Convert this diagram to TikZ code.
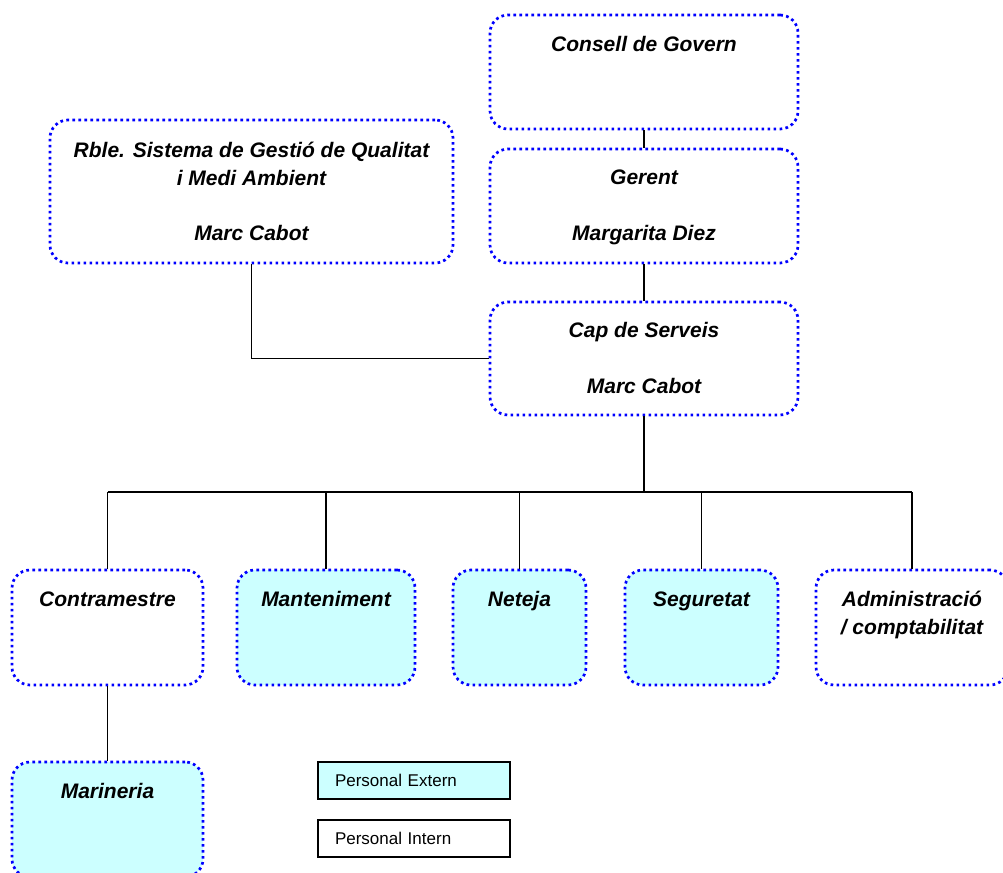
\documentclass[tikz,border=0pt]{standalone}
\usepackage{fontspec}
\setmainfont{Liberation Sans}
\usetikzlibrary{positioning}
\definecolor{extcyan}{HTML}{CCFFFF}
\definecolor{dotblue}{HTML}{0000FF}

\begin{document}
\begin{tikzpicture}[x=1pt,y=-1pt,line width=1.6pt,
    box/.style={draw=dotblue,line width=2.7pt,dash pattern=on 2.7pt off 3.3pt,rounded corners=18pt,inner sep=0pt},
    ext/.style={box,fill=extcyan},
    lbl/.style={font=\fontsize{21}{28}\selectfont\bfseries\itshape,align=center,inner sep=0pt},
    legbox/.style={draw,line width=1.4pt,minimum width=192pt,minimum height=37pt,inner sep=0pt,text width=158pt,font=\fontsize{17}{20}\selectfont}]

    \useasboundingbox (0,0) rectangle (1003,872);

    % top of the chart
    \node[box,minimum width=308pt,minimum height=114pt] (consell) at (644,72) {};
    \node[box,minimum width=308pt,minimum height=114pt] (gerent) at (644,206) {};
    \node[box,minimum width=403pt,minimum height=143pt] (rble) at (251.5,191.5) {};
    \node[box,minimum width=308pt,minimum height=113pt] (cap) at (644,358.5) {};

    \node[lbl,below=22pt of consell.north] (consellT) {Consell de Govern};
    \node[lbl,below=21pt of gerent.north] (gerentT) {Gerent\\[28pt]Margarita Diez};
    \node[lbl,below=23pt of rble.north] (rbleT) {Rble. Sistema de Gestió de Qualitat\\i Medi Ambient\\[27pt]Marc Cabot};
    \node[lbl,below=21pt of cap.north] (capT) {Cap de Serveis\\[28pt]Marc Cabot};

    % services row
    \node[box,minimum width=191pt,minimum height=115pt] (contra) at (107.5,627.5) {};
    \node[ext,minimum width=178pt,minimum height=115pt] (mant) at (326,627.5) {};
    \node[ext,minimum width=133pt,minimum height=115pt] (neteja) at (519.5,627.5) {};
    \node[ext,minimum width=153pt,minimum height=115pt] (seg) at (701.5,627.5) {};
    \node[box,minimum width=192pt,minimum height=115pt] (admin) at (912,627.5) {};
    \node[ext,minimum width=191pt,minimum height=115pt] (marin) at (107.5,819.5) {};

    \node[lbl,below=22pt of contra.north] (contraT) {Contramestre};
    \node[lbl,below=22pt of mant.north] (mantT) {Manteniment};
    \node[lbl,below=22pt of neteja.north] (netejaT) {Neteja};
    \node[lbl,below=22pt of seg.north] (segT) {Seguretat};
    \node[lbl,below=22pt of admin.north] (adminT) {Administració\\/ comptabilitat};
    \node[lbl,below=22pt of marin.north] (marinT) {Marineria};

    % legend
    \node[legbox,fill=extcyan] (extern) at (414,780.5) {Personal Extern};
    \node[legbox] (intern) at (414,838.5) {Personal Intern};

    % connectors
    \draw (consell) -- (gerent);
    \draw (gerent) -- (cap);
    \draw (rble.south) |- (cap.west);
    \coordinate (bus) at (644,492);
    \draw (cap.south) -- (bus);
    \draw (contra.north |- bus) -- (admin.north |- bus);
    \foreach \n in {contra,mant,neteja,seg,admin}
        \draw (\n.north |- bus) -- (\n.north);
    \draw (contra) -- (marin);

\end{tikzpicture}
\end{document}
